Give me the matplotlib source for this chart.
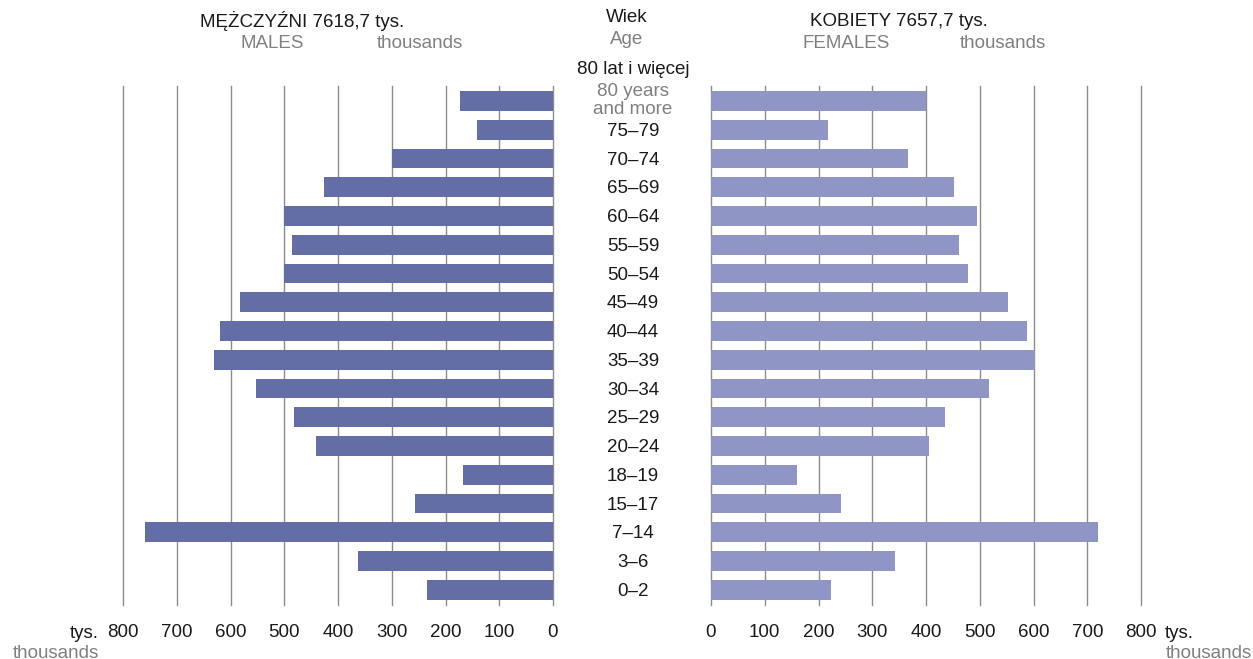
import numpy as np
import matplotlib.pyplot as plt
from matplotlib.transforms import blended_transform_factory

plt.rcParams['font.family'] = ['Liberation Sans', 'DejaVu Sans']

# age groups, top to bottom
ages = ['80 lat i więcej', '75–79', '70–74', '65–69', '60–64', '55–59', '50–54',
        '45–49', '40–44', '35–39', '30–34', '25–29', '20–24', '18–19',
        '15–17', '7–14', '3–6', '0–2']
males = [173, 141, 300, 426, 500, 486, 500, 582, 620, 631, 553, 482, 441,
         167, 257, 759, 363, 234]
females = [400, 218, 366, 452, 495, 461, 478, 553, 588, 603, 517, 435, 406,
           160, 242, 720, 342, 223]
ticks = [0, 100, 200, 300, 400, 500, 600, 700, 800]

c_m = '#646ea6'
c_f = '#8f95c5'
dark = '#1a1a1a'
gray = '#808080'
fs = 13.5

n = len(ages)
ypos = np.arange(n)[::-1]  # top group gets highest y

fig = plt.figure(figsize=(12.53, 6.59), dpi=100)
W, H = 1253.0, 659.0
bot = 1 - 605 / H
hgt = (605 - 86) / H
axL = fig.add_axes([123 / W, bot, 430 / W, hgt])
axR = fig.add_axes([711 / W, bot, 430 / W, hgt])

for ax, vals, col in [(axL, males, c_m), (axR, females, c_f)]:
    ax.barh(ypos, vals, height=0.69, color=col, zorder=2)
    ax.set_xlim(0, 800)
    ax.set_ylim(-0.53, 17.52)
    ax.set_xticks(ticks)
    ax.set_xticklabels([str(t) for t in ticks])
    for t in ticks:
        ax.axvline(t, color='#8c8c8c', lw=1.0, zorder=1, clip_on=False)
    for s in ax.spines.values():
        s.set_visible(False)
    ax.set_yticks([])
    ax.tick_params(axis='x', length=0, pad=14, labelsize=fs, labelcolor=dark)
axL.invert_xaxis()

# age labels in the middle
tr = blended_transform_factory(fig.transFigure, axL.transData)
xc = 633 / W
dy = -0.06
for y, lab in zip(ypos, ages):
    if y == n - 1:
        fig.text(xc, y + 1.15 + dy, lab, transform=tr, ha='center', va='center', fontsize=fs, color=dark)
        fig.text(xc, y + 0.07 + dy, '80 years\nand more', transform=tr, ha='center', va='center',
                 fontsize=fs, color=gray, linespacing=1.1)
    else:
        fig.text(xc, y + dy, lab, transform=tr, ha='center', va='center', fontsize=fs, color=dark)

# headers
def t(x, y, s, col=dark, ha='left'):
    fig.text(x / W, 1 - y / H, s, ha=ha, va='center', fontsize=fs, color=col)

t(627, 18, 'Wiek', ha='center')
t(627, 40, 'Age', gray, ha='center')
t(200, 21, 'MĘŻCZYŹNI 7618,7 tys.')
t(240, 44, 'MALES', gray)
t(377, 44, 'thousands', gray)
t(810, 21, 'KOBIETY 7657,7 tys.')
t(802, 44, 'FEMALES', gray)
t(960, 44, 'thousands', gray)

# axis unit labels
t(70, 633, 'tys.')
t(13, 653, 'thousands', gray)
t(1165, 633, 'tys.')
t(1166, 653, 'thousands', gray)

fig.savefig('out.png', dpi=100)
